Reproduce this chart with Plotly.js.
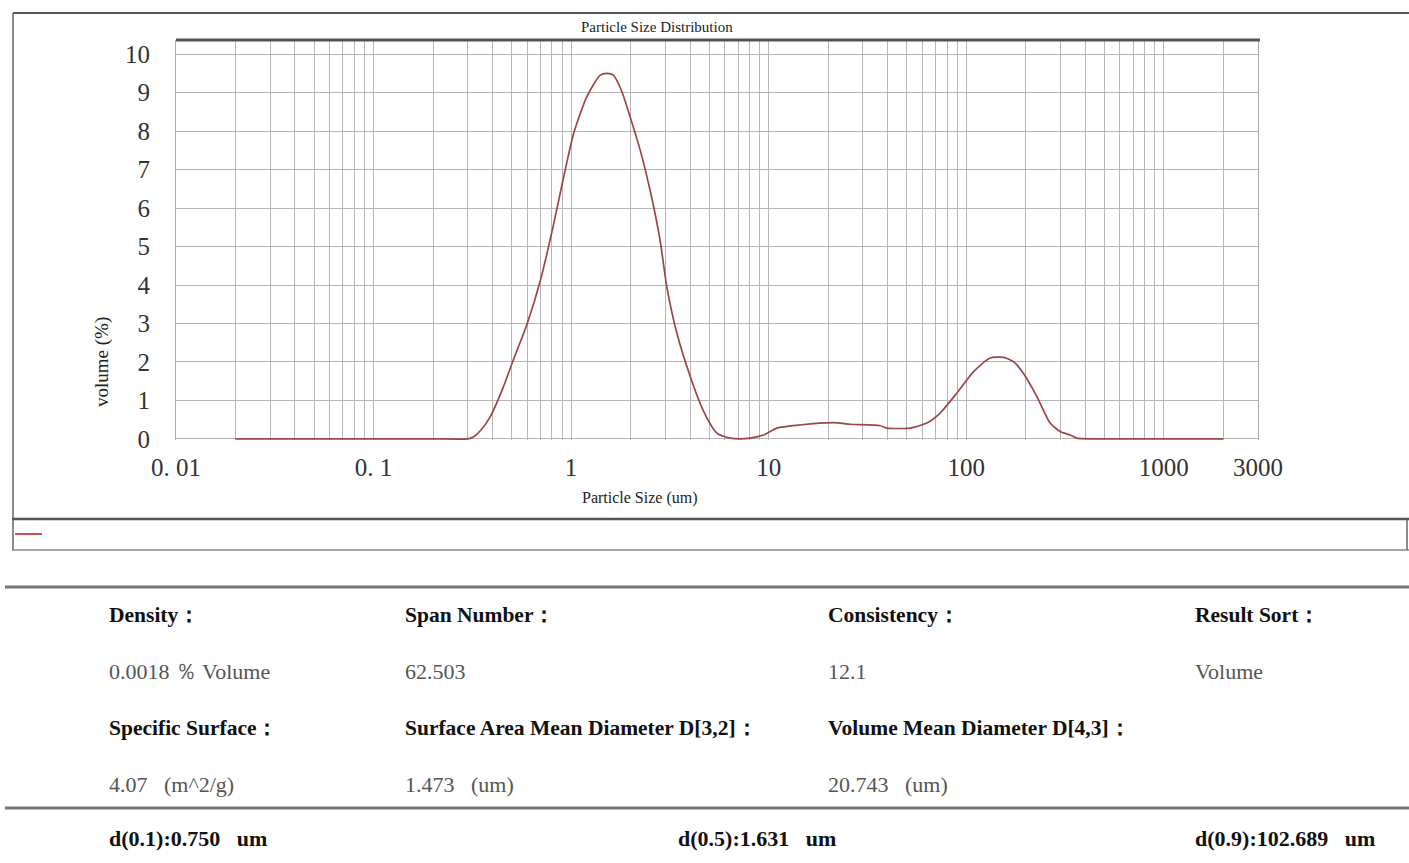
<!DOCTYPE html>
<html>
<head>
<meta charset="utf-8">
<script src="https://cdn.plot.ly/plotly-3.0.1.min.js"></script>
<style>
html,body{margin:0;padding:0;background:#fff;}
#chart{width:1409px;height:863px;}
</style>
</head>
<body>
<div id="chart"></div>
<script>
// ---- data ----
const particleSize = [0.02, 0.05, 0.1, 0.2, 0.3, 0.32, 0.35, 0.39, 0.45, 0.51, 0.6, 0.7, 0.81, 0.91, 1.03, 1.2, 1.4, 1.52, 1.64, 1.8, 1.99, 2.24, 2.51, 2.82, 3.05, 3.43, 4.01, 4.68, 5.47, 6.38, 7.2, 8.05, 9.42, 11.0, 14.4, 21.3, 25.9, 36.7, 39.7, 52.0, 63.2, 73.8, 89.7, 109, 132, 155, 174, 195, 228, 266, 299, 336, 363, 500, 1000, 2000];
const volumePct = [0, 0, 0, 0, 0, 0.05, 0.23, 0.58, 1.3, 2.05, 3.0, 4.13, 5.51, 6.73, 7.94, 8.89, 9.45, 9.5, 9.45, 9.05, 8.37, 7.5, 6.47, 5.17, 3.96, 2.75, 1.62, 0.72, 0.15, 0.02, 0.0, 0.02, 0.1, 0.28, 0.36, 0.42, 0.38, 0.34, 0.28, 0.28, 0.41, 0.67, 1.19, 1.75, 2.10, 2.12, 2.0, 1.7, 1.1, 0.41, 0.19, 0.1, 0.02, 0, 0, 0];

const xGridVals = [0.01,0.02,0.03,0.04,0.05,0.06,0.07,0.08,0.09,0.1,0.2,0.3,0.4,0.5,0.6,0.7,0.8,0.9,1,2,3,4,5,6,7,8,9,10,20,30,40,50,60,70,80,90,100,200,300,400,500,600,700,800,900,1000,2000,3000];
const xLabelVals = [0.01, 0.1, 1, 10, 100, 1000, 3000];
const xLabelText = ["0. 01", "0. 1", "1", "10", "100", "1000", "3000"];
const yTickVals = [0,1,2,3,4,5,6,7,8,9,10];

const chartTitle = "Particle Size Distribution";
const xTitle = "Particle Size (um)";
const yTitle = "volume (%)";

const tableHeads1 = ["Density：", "Span Number：", "Consistency：", "Result Sort："];
const tableVals1 = ["0.0018 ％ Volume", "62.503", "12.1", "Volume"];
const tableHeads2 = ["Specific Surface：", "Surface Area Mean Diameter D[3,2]：", "Volume Mean Diameter D[4,3]："];
const tableVals2 = ["4.07   (m^2/g)", "1.473   (um)", "20.743   (um)"];
const percentiles = ["d(0.1):0.750   um", "d(0.5):1.631   um", "d(0.9):102.689   um"];

// ---- layout helpers (pixel -> paper) ----
const L = 176, T = 40, PW = 1082, PH = 400;
const px = x => (x - L) / PW;
const py = y => (T + PH - y) / PH;
const serif = "Liberation Serif, Times New Roman, serif";

const xTickText = xGridVals.map(v => {
  const i = xLabelVals.findIndex(a => Math.abs(a - v) < 1e-9);
  return i >= 0 ? xLabelText[i] : "";
});

const trace = {
  x: particleSize, y: volumePct, type: "scatter", mode: "lines",
  line: {color: "#9c4646", width: 1.7, shape: "spline", smoothing: 0.6},
  hoverinfo: "skip", showlegend: false
};

function line(x0, y0, x1, y1, color, width) {
  return {type: "line", xref: "paper", yref: "paper", x0: px(x0), y0: py(y0), x1: px(x1), y1: py(y1),
    line: {color: color, width: width}, layer: "above"};
}
function txt(x, y, text, opts) {
  return Object.assign({xref: "paper", yref: "paper", x: px(x), y: py(y), text: text, showarrow: false,
    xanchor: "left", yanchor: "middle", font: {family: serif, size: 21.5, color: "#111"}}, opts || {});
}

const shapes = [
  line(13, 13, 1409, 13, "#555", 2),
  line(13, 13, 13, 550, "#666", 1.5),
  line(176, 40, 1260, 40, "#555", 3),
  line(12, 519, 1409, 519, "#555", 2.5),
  line(12, 550, 1409, 550, "#888", 1.5),
  line(1407, 519, 1407, 550, "#666", 1.5),
  line(15, 534, 42, 534, "#d05050", 2),
  line(5, 587, 1409, 587, "#777", 3),
  line(5, 808, 1409, 808, "#777", 3)
];

const valFont = {family: serif, size: 22, color: "#555"};
const headCols = [107, 403, 826, 1193];
const annotations = [
  txt(657, 27, chartTitle, {xanchor: "center", font: {family: serif, size: 15, color: "#222"}}),
  txt(640, 498, xTitle, {xanchor: "center", font: {family: serif, size: 16, color: "#222"}}),
  txt(102, 362, yTitle, {xanchor: "center", textangle: -90, font: {family: serif, size: 19, color: "#222"}})
];
tableHeads1.forEach((t, i) => annotations.push(txt(headCols[i], 615, "<b>" + t + "</b>")));
tableVals1.forEach((t, i) => annotations.push(txt(headCols[i], 671, t, {font: valFont})));
tableHeads2.forEach((t, i) => annotations.push(txt(headCols[i], 728, "<b>" + t + "</b>")));
tableVals2.forEach((t, i) => annotations.push(txt(headCols[i], 784, t, {font: valFont})));
const pCols = [107, 676, 1193];
percentiles.forEach((t, i) => annotations.push(txt(pCols[i], 838, "<b>" + t + "</b>", {font: {family: serif, size: 22, color: "#111"}})));

const layout = {
  width: 1409, height: 863,
  margin: {l: L, r: 1409 - L - PW, t: T, b: 863 - T - PH, pad: 0},
  paper_bgcolor: "#fff", plot_bgcolor: "#fff",
  showlegend: false,
  xaxis: {
    type: "log", range: [Math.log10(0.01), Math.log10(3000)],
    tickmode: "array", tickvals: xGridVals, ticktext: xTickText,
    showgrid: true, gridcolor: "#b5b5b5", gridwidth: 1,
    showline: false, zeroline: false,
    ticks: "outside", ticklen: 5, tickcolor: "rgba(0,0,0,0)",
    tickfont: {family: serif, size: 25, color: "#333"}, tickangle: 0
  },
  yaxis: {
    range: [-0.03, 10.37],
    tickmode: "array", tickvals: yTickVals,
    showgrid: true, gridcolor: "#b5b5b5", gridwidth: 1,
    showline: true, mirror: true, linecolor: "#aaa", linewidth: 1, zeroline: false,
    ticks: "outside", ticklen: 20, tickcolor: "rgba(0,0,0,0)",
    tickfont: {family: serif, size: 25, color: "#333"}
  },
  shapes: shapes,
  annotations: annotations
};

Plotly.newPlot("chart", [trace], layout, {staticPlot: true, displayModeBar: false});
</script>
</body>
</html>
